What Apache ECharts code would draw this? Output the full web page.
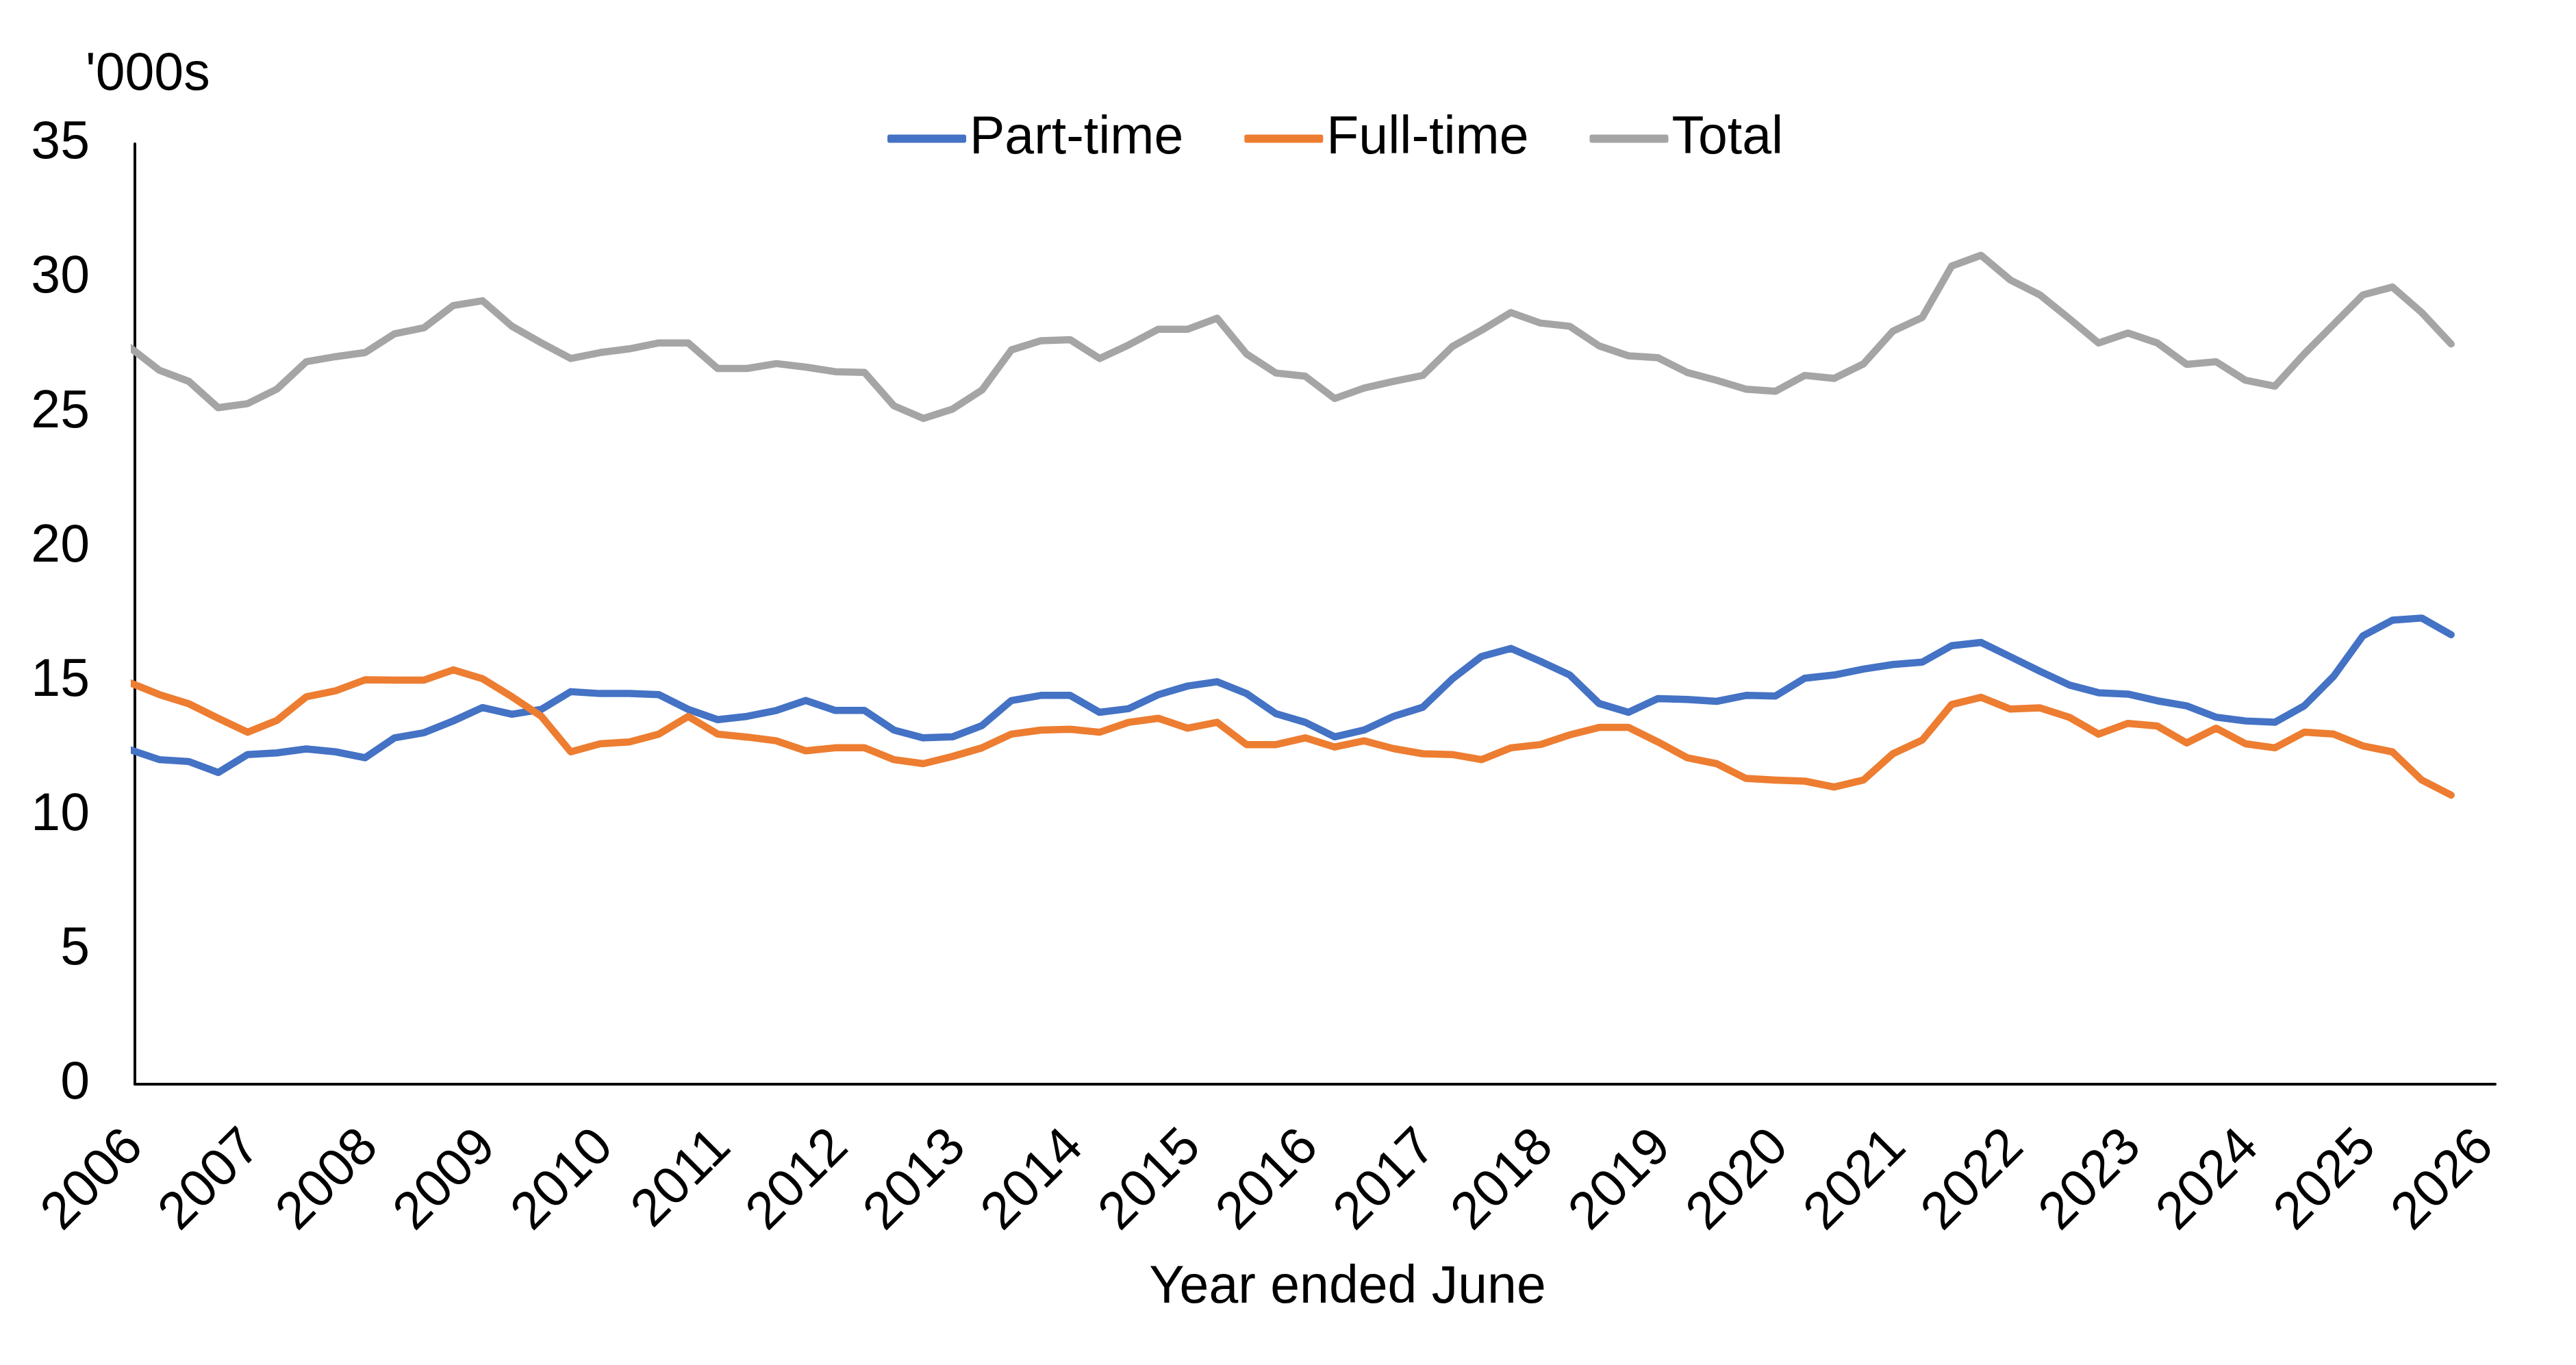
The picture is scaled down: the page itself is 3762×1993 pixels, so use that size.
<!DOCTYPE html>
<html>
<head>
<meta charset="utf-8">
<title>Part-time and full-time, year ended June</title>
<script src="https://cdn.jsdelivr.net/npm/echarts@6/dist/echarts.min.js"></script>
<style>
  html, body { margin: 0; padding: 0; background: #fff; }
  #chart { width: 3762px; height: 1993px; }
</style>
</head>
<body>
<div id="chart"></div>
<script>
// quarter-end periods (year-month), Dec 2005 to Sep 2025
const periods = [
  '2005-12',
  '2006-03', '2006-06', '2006-09', '2006-12',
  '2007-03', '2007-06', '2007-09', '2007-12',
  '2008-03', '2008-06', '2008-09', '2008-12',
  '2009-03', '2009-06', '2009-09', '2009-12',
  '2010-03', '2010-06', '2010-09', '2010-12',
  '2011-03', '2011-06', '2011-09', '2011-12',
  '2012-03', '2012-06', '2012-09', '2012-12',
  '2013-03', '2013-06', '2013-09', '2013-12',
  '2014-03', '2014-06', '2014-09', '2014-12',
  '2015-03', '2015-06', '2015-09', '2015-12',
  '2016-03', '2016-06', '2016-09', '2016-12',
  '2017-03', '2017-06', '2017-09', '2017-12',
  '2018-03', '2018-06', '2018-09', '2018-12',
  '2019-03', '2019-06', '2019-09', '2019-12',
  '2020-03', '2020-06', '2020-09', '2020-12',
  '2021-03', '2021-06', '2021-09', '2021-12',
  '2022-03', '2022-06', '2022-09', '2022-12',
  '2023-03', '2023-06', '2023-09', '2023-12',
  '2024-03', '2024-06', '2024-09', '2024-12',
  '2025-03', '2025-06', '2025-09'
];

// '000s
const partTime = [
  12.45,
  12.08, 12.01, 11.60, 12.27,
  12.33, 12.48, 12.37, 12.15,
  12.89, 13.08, 13.52, 14.02,
  13.77, 13.95, 14.61, 14.54,
  14.54, 14.50, 13.95, 13.57,
  13.69, 13.91, 14.28, 13.91,
  13.91, 13.18, 12.89, 12.93,
  13.35, 14.28, 14.47, 14.47,
  13.84, 13.98, 14.50, 14.82,
  14.98, 14.54, 13.79, 13.47,
  12.93, 13.18, 13.69, 14.03,
  15.08, 15.92, 16.22, 15.74,
  15.23, 14.17, 13.84, 14.35,
  14.32, 14.25, 14.47, 14.45,
  15.11, 15.23, 15.45, 15.62,
  15.71, 16.32, 16.44, 15.91,
  15.37, 14.86, 14.57, 14.52,
  14.27, 14.08, 13.66, 13.52,
  13.47, 14.08, 15.18, 16.69,
  17.27, 17.35, 16.73
];

const fullTime = [
  14.94,
  14.50, 14.16, 13.62, 13.10,
  13.54, 14.42, 14.64, 15.05,
  15.04, 15.04, 15.42, 15.09,
  14.42, 13.69, 12.37, 12.67,
  12.74, 13.03, 13.69, 13.03,
  12.92, 12.78, 12.41, 12.52,
  12.52, 12.08, 11.93, 12.20,
  12.52, 13.03, 13.18, 13.21,
  13.10, 13.47, 13.62, 13.25,
  13.47, 12.64, 12.64, 12.89,
  12.55, 12.78, 12.49, 12.30,
  12.27, 12.08, 12.52, 12.64,
  13.00, 13.28, 13.28, 12.74,
  12.15, 11.93, 11.38, 11.32,
  11.28, 11.06, 11.32, 12.30,
  12.81, 14.13, 14.40, 13.96,
  14.01, 13.66, 13.03, 13.43,
  13.33, 12.70, 13.25, 12.67,
  12.52, 13.10, 13.03, 12.59,
  12.37, 11.32, 10.76
];

const total = [
  27.42,
  26.57, 26.16, 25.18, 25.33,
  25.87, 26.89, 27.08, 27.23,
  27.93, 28.15, 28.98, 29.16,
  28.21, 27.59, 27.01, 27.23,
  27.37, 27.59, 27.59, 26.64,
  26.64, 26.82, 26.69, 26.52,
  26.49, 25.25, 24.78, 25.13,
  25.84, 27.33, 27.67, 27.71,
  27.01, 27.52, 28.10, 28.10,
  28.51, 27.18, 26.47, 26.35,
  25.52, 25.91, 26.16, 26.38,
  27.45, 28.06, 28.72, 28.33,
  28.21, 27.48, 27.11, 27.04,
  26.49, 26.20, 25.87, 25.79,
  26.38, 26.27, 26.81, 28.03,
  28.54, 30.45, 30.85, 29.93,
  29.38, 28.50, 27.59, 27.96,
  27.59, 26.79, 26.89, 26.20,
  25.98, 27.18, 28.28, 29.38,
  29.67, 28.72, 27.55
];

const seriesNames = ['Part-time', 'Full-time', 'Total'];
const seriesColors = ['#4472C4', '#ED7D31', '#A5A5A5'];
const yTicks = { min: 0, max: 35, step: 5 };
const xYears = { first: 2006, last: 2026 };

const FONT = '"Liberation Sans", Arial, Helvetica, sans-serif';
const FONT_SIZE = 77;

// place each quarter at the middle of its reference month on a year scale
const toYear = (p) => {
  const [y, m] = p.split('-').map(Number);
  return y + (m - 0.5) / 12;
};

const pairs = (values) => periods.map((p, i) => [toYear(p), values[i]]);

const chart = echarts.init(document.getElementById('chart'), null, { renderer: 'canvas' });

chart.setOption({
  animation: false,
  backgroundColor: '#ffffff',
  textStyle: { fontFamily: FONT },
  grid: { left: 197, right: 118, top: 210, bottom: 410, containLabel: false },
  legend: {
    data: seriesNames,
    left: 1296,
    top: 164,
    padding: 0,
    itemWidth: 115,
    itemHeight: 12,
    itemGap: 89,
    icon: 'roundRect',
    textStyle: { fontFamily: FONT, fontSize: FONT_SIZE, color: '#000' }
  },
  xAxis: {
    type: 'value',
    min: xYears.first,
    max: xYears.last + 1 / 12,
    interval: 1,
    axisLine: { show: true, lineStyle: { color: '#000', width: 4 } },
    axisTick: { show: false },
    splitLine: { show: false },
    axisLabel: {
      rotate: 45,
      margin: 80,
      fontFamily: FONT,
      fontSize: FONT_SIZE,
      color: '#000',
      showMaxLabel: false,
      formatter: (v) => (Math.abs(v - Math.round(v)) < 1e-6 && v <= xYears.last ? String(Math.round(v)) : '')
    }
  },
  yAxis: {
    type: 'value',
    min: yTicks.min,
    max: yTicks.max,
    interval: yTicks.step,
    axisLine: { show: true, lineStyle: { color: '#000', width: 4 } },
    axisTick: { show: false },
    splitLine: { show: false },
    axisLabel: { margin: 66, fontFamily: FONT, fontSize: FONT_SIZE, color: '#000' }
  },
  graphic: [
    {
      type: 'text',
      x: 125,
      y: 110,
      style: { text: "'000s", font: FONT_SIZE + 'px ' + FONT, fill: '#000', textAlign: 'left', textVerticalAlign: 'middle' }
    },
    {
      type: 'text',
      x: 1968,
      y: 1881,
      style: { text: 'Year ended June', font: FONT_SIZE + 'px ' + FONT, fill: '#000', textAlign: 'center', textVerticalAlign: 'middle' }
    }
  ],
  series: [partTime, fullTime, total].map((vals, i) => ({
    name: seriesNames[i],
    type: 'line',
    data: pairs(vals),
    showSymbol: false,
    symbol: 'none',
    color: seriesColors[i],
    lineStyle: { color: seriesColors[i], width: 10.5, cap: 'round', join: 'round' },
    emphasis: { disabled: true }
  }))
});
</script>
</body>
</html>
